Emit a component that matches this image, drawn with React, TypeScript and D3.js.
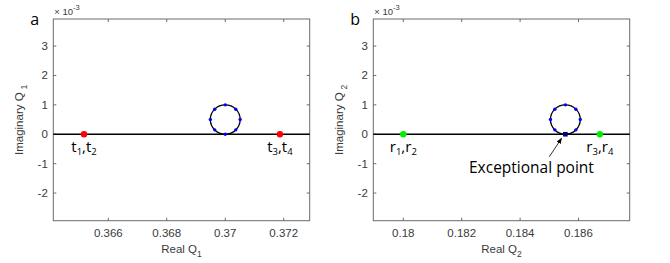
import React from 'react';
import * as d3 from 'd3';

// axis extents (imaginary part is in units of 1e-3)
const xExtentA = [0.364119, 0.372889];
const xExtentB = [0.178973, 0.187753];
const yExtent = [-2.94, 3.92];

const xTicksA = [0.366, 0.368, 0.37, 0.372];
const xTickLabelsA = ['0.366', '0.368', '0.37', '0.372'];
const xTicksB = [0.18, 0.182, 0.184, 0.186];
const xTickLabelsB = ['0.18', '0.182', '0.184', '0.186'];
const yTicks = [-2, -1, 0, 1, 2, 3];
const yTickLabels = ['-2', '-1', '0', '1', '2', '3'];

// eigenvalue pairs on the real axis
const pointsA = [
    {x: 0.36517, y: 0, name: 't', sub: ['1', '2']},
    {x: 0.37187, y: 0, name: 't', sub: ['3', '4']},
];
const pointsB = [
    {x: 0.18, y: 0, name: 'r', sub: ['1', '2']},
    {x: 0.18673, y: 0, name: 'r', sub: ['3', '4']},
];

// loop traced in the complex plane
const loopCenterA = [0.37, 0.5];
const loopCenterB = [0.18555, 0.5];
const loopRadius = [0.00051, 0.5];
const loopDotsA = [
    [0.37, 1.0], [0.37036, 0.85], [0.37051, 0.5], [0.37036, 0.15],
    [0.37, 0], [0.36964, 0.15], [0.36949, 0.5], [0.36964, 0.85],
];
const loopDotsB = [
    [0.18555, 1.0], [0.18591, 0.85], [0.18606, 0.5], [0.18591, 0.15],
    [0.18519, 0.15], [0.18504, 0.5], [0.18519, 0.85],
];
const exceptionalPoint = [0.18555, 0];
const arrowTail = [0.18500, -0.765];
const arrowHead = [0.18542, -0.14];
const arrowText = {x: 0.18225, y: -1.33, text: 'Exceptional point'};

const left = [53.3, 373.3];
const plotW = 256.4;
const top = 19;
const bottom = 220.7;

const axisColor = '#6b6b6b';
const labelColor = '#3a3a3a';
const tickFont = '"Liberation Sans", Arial, sans-serif';
const noteFont = '"Open Sans", "Noto Sans", sans-serif';

const Panel = ({x0, letter, xExtent, xTicks, xTickLabels, points, dotColor, loopCenter, loopDots, qIndex, extra}) => {
    const x = d3.scaleLinear().domain(xExtent).range([x0, x0 + plotW]);
    const y = d3.scaleLinear().domain(yExtent).range([bottom, top]);
    const tl = 3;

    return (
        <g>
            {/* box */}
            <rect x={x0} y={top} width={plotW} height={bottom - top} fill="none" stroke={axisColor} strokeWidth={1} />
            {xTicks.map((t, i) => (
                <g key={'xt' + i}>
                    <line x1={x(t)} x2={x(t)} y1={bottom} y2={bottom - tl} stroke={axisColor} />
                    <line x1={x(t)} x2={x(t)} y1={top} y2={top + tl} stroke={axisColor} />
                    <text x={x(t)} y={236.5} textAnchor="middle" fontSize={11.5} fontFamily={tickFont} fill={labelColor}>
                        {xTickLabels[i]}
                    </text>
                </g>
            ))}
            {yTicks.map((t, i) => (
                <g key={'yt' + i}>
                    <line x1={x0} x2={x0 + tl} y1={y(t)} y2={y(t)} stroke={axisColor} />
                    <line x1={x0 + plotW} x2={x0 + plotW - tl} y1={y(t)} y2={y(t)} stroke={axisColor} />
                    <text x={x0 - 5.5} y={y(t) + 4} textAnchor="end" fontSize={11.5} fontFamily={tickFont} fill={labelColor}>
                        {yTickLabels[i]}
                    </text>
                </g>
            ))}
            {/* exponent */}
            <text x={x0 + 1} y={14.5} fontSize={9.5} fontFamily={tickFont} fill={labelColor}>
                × 10<tspan dy={-5} fontSize={7.5}>-3</tspan>
            </text>
            {/* axis labels */}
            <text x={x0 + plotW / 2} y={253} textAnchor="middle" fontSize={11.5} fontFamily={tickFont} fill={labelColor}>
                Real Q<tspan dy={4} fontSize={8.5}>{qIndex}</tspan>
            </text>
            <text transform={`translate(${x0 - 30},${(top + bottom) / 2}) rotate(-90)`} textAnchor="middle" fontSize={11.5} fontFamily={tickFont} fill={labelColor}>
                Imaginary Q<tspan dx={3} dy={4} fontSize={8.5}>{qIndex}</tspan>
            </text>
            <text x={x0 - 23} y={25} fontSize={16} fontFamily={noteFont} fill="#000">{letter}</text>

            {/* real axis */}
            <line x1={x0} x2={x0 + plotW} y1={y(0)} y2={y(0)} stroke="#000" strokeWidth={1.5} />
            {/* loop */}
            <ellipse cx={x(loopCenter[0])} cy={y(loopCenter[1])}
                rx={x(loopCenter[0] + loopRadius[0]) - x(loopCenter[0])}
                ry={y(loopCenter[1] - loopRadius[1]) - y(loopCenter[1])}
                fill="none" stroke="#000" strokeWidth={1.3} />
            {loopDots.map((d, i) => (
                <circle key={'ld' + i} cx={x(d[0])} cy={y(d[1])} r={1.7} fill="#0000ff" />
            ))}
            {points.map((p, i) => (
                <g key={'p' + i}>
                    <circle cx={x(p.x)} cy={y(p.y)} r={3.2} fill={dotColor} />
                    <text x={x(p.x)} y={y(p.y) + 17.5} textAnchor="middle" fontSize={15} fontFamily={noteFont} fill="#000">
                        {p.name}<tspan dy={3} fontSize={9.5}>{p.sub[0]}</tspan><tspan dy={-3}>,{p.name}</tspan><tspan dy={3} fontSize={9.5}>{p.sub[1]}</tspan>
                    </text>
                </g>
            ))}
            {extra ? extra(x, y) : null}
        </g>
    );
};

const App = () => {
    const exceptional = (x, y) => (
        <g>
            <rect x={x(exceptionalPoint[0]) - 2.3} y={y(exceptionalPoint[1]) - 2.3} width={4.6} height={4.6} fill="#00007a" />
            <line x1={x(arrowTail[0])} y1={y(arrowTail[1])} x2={x(arrowHead[0])} y2={y(arrowHead[1])}
                stroke="#000" strokeWidth={0.8} markerEnd="url(#arrowhead)" />
            <text x={x(arrowText.x)} y={y(arrowText.y)} fontSize={15.5} fontFamily={noteFont} fill="#000">
                {arrowText.text}
            </text>
        </g>
    );

    return (
        <svg width={670} height={263} style={{position: 'absolute', left: 0, top: 0, background: '#fff'}}>
            <defs>
                <marker id="arrowhead" viewBox="0 0 10 10" refX={9} refY={5} markerWidth={6} markerHeight={6}
                    markerUnits="userSpaceOnUse" orient="auto">
                    <path d="M0,1 L10,5 L0,9 z" fill="#000" />
                </marker>
            </defs>
            <Panel x0={left[0]} letter="a" xExtent={xExtentA} xTicks={xTicksA} xTickLabels={xTickLabelsA}
                points={pointsA} dotColor="#ff0000" loopCenter={loopCenterA} loopDots={loopDotsA} qIndex="1" />
            <Panel x0={left[1]} letter="b" xExtent={xExtentB} xTicks={xTicksB} xTickLabels={xTickLabelsB}
                points={pointsB} dotColor="#00ee00" loopCenter={loopCenterB} loopDots={loopDotsB} qIndex="2"
                extra={exceptional} />
        </svg>
    );
};

export default App;
